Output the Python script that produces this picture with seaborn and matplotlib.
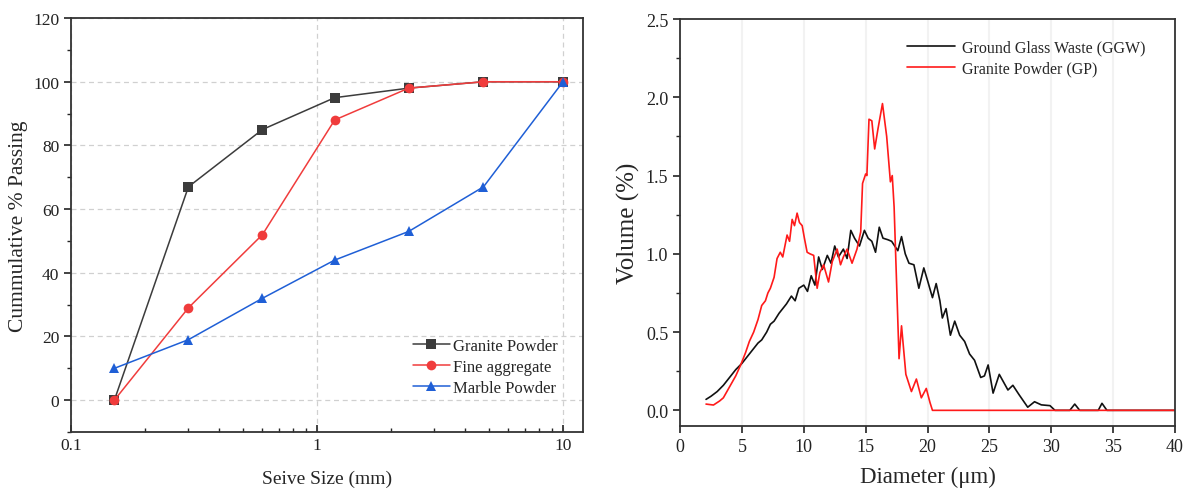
import matplotlib
matplotlib.use('Agg')
import matplotlib.pyplot as plt
from matplotlib.ticker import MultipleLocator, LogLocator, NullFormatter, FormatStrFormatter
import seaborn as sns
import pandas as pd

# sieve analysis (left panel)
sieve_mm = [0.15, 0.3, 0.6, 1.18, 2.36, 4.75, 10]
granite_pass = [0, 67, 85, 95, 98, 100, 100]
fine_agg_pass = [0, 29, 52, 88, 98, 100, 100]
marble_pass = [10, 19, 32, 44, 53, 67, 100]
sieve_names = ['Granite Powder', 'Fine aggregate', 'Marble Powder']

# particle size distribution (right panel)
ggw_d = [2.1, 2.5, 3.0, 3.5, 4.0, 4.5, 5.0, 5.5, 6.0, 6.3, 6.6, 7.0, 7.3, 7.6, 8.0,
         8.3, 8.6, 9.0, 9.3, 9.6, 10.0, 10.3, 10.6, 10.9, 11.2, 11.5, 11.9, 12.2,
         12.5, 12.8, 13.2, 13.5, 13.8, 14.1, 14.5, 14.9, 15.2, 15.5, 15.8, 16.1,
         16.4, 16.8, 17.1, 17.6, 17.9, 18.2, 18.5, 18.9, 19.3, 19.7, 20.0, 20.4,
         20.7, 21.0, 21.2, 21.5, 21.85, 22.2, 22.6, 23.0, 23.4, 23.8, 24.3, 24.6,
         24.9, 25.3, 25.8, 26.5, 26.9, 27.4, 28.1, 28.65, 29.2, 29.9, 30.3, 31.5,
         31.9, 32.3, 33.8, 34.1, 34.5, 40.0]
ggw_vol = [0.07, 0.09, 0.12, 0.16, 0.21, 0.26, 0.30, 0.35, 0.40, 0.43, 0.45, 0.50,
           0.55, 0.57, 0.62, 0.65, 0.68, 0.73, 0.70, 0.78, 0.80, 0.76, 0.86, 0.80,
           0.98, 0.90, 0.99, 0.94, 1.05, 0.98, 1.03, 0.97, 1.15, 1.10, 1.05, 1.15,
           1.10, 1.08, 1.01, 1.17, 1.10, 1.09, 1.08, 1.02, 1.11, 1.00, 0.94, 0.93,
           0.78, 0.91, 0.83, 0.72, 0.81, 0.70, 0.59, 0.65, 0.48, 0.57, 0.48, 0.44,
           0.36, 0.32, 0.21, 0.22, 0.29, 0.11, 0.23, 0.13, 0.16, 0.10, 0.02, 0.055,
           0.035, 0.03, 0.0, 0.0, 0.04, 0.0, 0.0, 0.045, 0.0, 0.0]
gp_d = [2.1, 2.7, 3.2, 3.5, 4.0, 4.5, 4.9, 5.3, 5.6, 5.95, 6.3, 6.6, 6.9, 7.1, 7.3,
        7.6, 7.84, 8.1, 8.3, 8.65, 8.85, 9.06, 9.25, 9.46, 9.65, 9.87, 10.05, 10.27,
        10.5, 10.8, 11.08, 11.3, 11.6, 12.0, 12.3, 12.7, 12.97, 13.2, 13.5, 13.9,
        14.3, 14.6, 14.75, 15.0, 15.1, 15.27, 15.5, 15.73, 16.0, 16.36, 16.7, 17.0,
        17.15, 17.3, 17.7, 17.9, 18.25, 18.7, 19.1, 19.5, 19.9, 20.2, 20.4, 40.0]
gp_vol = [0.04, 0.034, 0.06, 0.08, 0.15, 0.22, 0.29, 0.37, 0.44, 0.50, 0.58, 0.67,
          0.70, 0.75, 0.78, 0.85, 0.97, 1.01, 0.98, 1.12, 1.08, 1.22, 1.18, 1.26,
          1.20, 1.18, 1.10, 1.01, 1.00, 0.99, 0.78, 0.88, 0.93, 0.82, 0.95, 1.03,
          0.93, 0.98, 1.03, 0.94, 1.03, 1.14, 1.45, 1.51, 1.50, 1.86, 1.85, 1.67,
          1.80, 1.96, 1.75, 1.46, 1.50, 1.30, 0.33, 0.54, 0.23, 0.12, 0.20, 0.08,
          0.14, 0.05, 0.0, 0.0]

sns.set_theme(style='ticks')
plt.rcParams['font.family'] = ['Liberation Serif', 'DejaVu Serif']

fig = plt.figure(figsize=(11.86, 4.89), dpi=100)
ax1 = fig.add_axes([0.0599, 0.1145, 0.4317, 0.8465])
ax2 = fig.add_axes([0.5734, 0.1268, 0.4173, 0.8322])

# left: cumulative passing
sieve_df = pd.DataFrame({
    'size': sieve_mm * 3,
    'passing': granite_pass + fine_agg_pass + marble_pass,
    'material': [n for n in sieve_names for _ in sieve_mm],
})
sns.lineplot(data=sieve_df, x='size', y='passing', hue='material', style='material',
             hue_order=sieve_names, style_order=sieve_names,
             palette=['#3c3c3c', '#f03c3c', '#1f5fd6'],
             markers=['s', 'o', '^'], dashes=False, markersize=7,
             markeredgewidth=0, linewidth=1.1, sort=False, ax=ax1)
ax1.set_xscale('log')
ax1.set_xlim(0.1, 12.06)
ax1.set_ylim(-10, 120)
ax1.yaxis.set_major_locator(MultipleLocator(20))
ax1.yaxis.set_minor_locator(MultipleLocator(10))
ax1.xaxis.set_minor_locator(LogLocator(base=10, subs=range(2, 10)))
ax1.xaxis.set_minor_formatter(NullFormatter())
ax1.set_xticks([0.1, 1, 10])
ax1.set_xticklabels(['0.1', '1', '10'])
ax1.set_yticks([0, 20, 40, 60, 80, 100, 120])
ax1.grid(True, which='major', linestyle=(0, (4, 3)), color='#d0d0d0', linewidth=0.9)
ax1.tick_params(axis='x', which='both', direction='in')
ax1.tick_params(axis='x', which='major', length=5, width=1.2)
ax1.tick_params(axis='x', which='minor', length=3, width=1.0)
ax1.tick_params(axis='y', which='major', direction='out', length=5, width=1.2)
ax1.tick_params(axis='y', which='minor', direction='out', length=3, width=1.0)
ax1.tick_params(labelsize=12.5, colors='#222222')
ax1.set_xlabel('Seive Size (mm)', fontsize=14, labelpad=12)
ax1.set_ylabel('Cummulative % Passing', fontsize=15.5)
ax1.legend(loc='lower right', bbox_to_anchor=(0.98, 0.05), frameon=False,
           fontsize=12, handlelength=2.2, handletextpad=0.2, labelspacing=0.3)

# right: particle size distribution
sns.lineplot(x=ggw_d, y=ggw_vol, color='#111111', linewidth=1.2, sort=False,
             label='Ground Glass Waste (GGW)', ax=ax2)
sns.lineplot(x=gp_d, y=gp_vol, color='#ff1a1a', linewidth=1.2, sort=False,
             label='Granite Powder (GP)', ax=ax2)
ax2.set_xlim(0, 40)
ax2.set_ylim(-0.1, 2.5)
ax2.xaxis.set_major_locator(MultipleLocator(5))
ax2.yaxis.set_major_locator(MultipleLocator(0.5))
ax2.yaxis.set_minor_locator(MultipleLocator(0.25))
ax2.yaxis.set_major_formatter(FormatStrFormatter('%.1f'))
ax2.grid(True, axis='x', color='#f2f2f2', linewidth=1.5)
ax2.tick_params(axis='both', which='major', direction='out', length=5, width=1.2,
                labelsize=13, colors='#222222')
ax2.tick_params(axis='y', which='minor', direction='out', length=3, width=1.0)
ax2.set_xlabel('Diameter (μm)', fontsize=16.5, labelpad=8)
ax2.set_ylabel('Volume (%)', fontsize=18)
ax2.legend(loc='upper left', bbox_to_anchor=(0.43, 0.985), frameon=False,
           fontsize=11.5, handlelength=3.0, handletextpad=0.4, labelspacing=0.3)

for ax in (ax1, ax2):
    for s in ax.spines.values():
        s.set_visible(True)
        s.set_linewidth(1.3)
        s.set_color('#333333')

fig.savefig('out.png', dpi=100)
